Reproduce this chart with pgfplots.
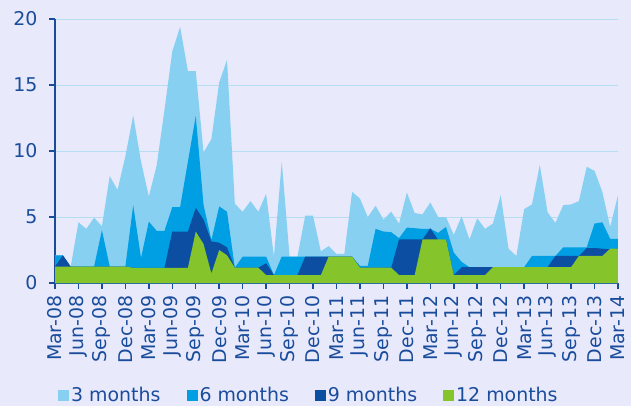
\documentclass[border=0pt]{standalone}
\usepackage{fontspec}
\setmainfont{DejaVu Sans}
\usepackage{pgfplots}
\usepackage{pgfplotstable}
\pgfplotsset{compat=1.18}
\definecolor{bg}{HTML}{E8E9FB}
\definecolor{cThree}{HTML}{88D0F2}
\definecolor{cSix}{HTML}{009EE2}
\definecolor{cNine}{HTML}{0B4EA2}
\definecolor{cTwelve}{HTML}{86C42C}
\definecolor{axc}{HTML}{1A4C9C}
\definecolor{gridc}{HTML}{B5DEF3}

% month index (0 = Mar-08), then the four maturities
\pgfplotstableread{
m  v3    v6    v9    v12
0  2.1   2.1   1.25  1.25
1  2.1   2.1   2.1   1.25
2  1.2   1.25  1.25  1.25
3  4.6   1.25  1.25  1.25
4  4.1   1.25  1.25  1.25
5  4.95  1.25  1.25  1.25
6  4.3   4.0   1.25  1.25
7  8.1   1.25  1.25  1.25
8  7.05  1.25  1.25  1.25
9  9.6   1.25  1.25  1.25
10 12.7  5.9   1.15  1.15
11 9.2   1.9   1.15  1.15
12 6.55  4.65  1.15  1.15
13 8.9   3.95  1.15  1.15
14 13.1  3.95  1.15  1.15
15 17.55 5.75  3.9   1.15
16 19.4  5.75  3.9   1.15
17 16.05 9.2   3.9   1.15
18 16.05 12.65 5.7   3.9
19 9.9   5.9   4.8   2.95
20 10.9  3.25  3.15  0.72
21 15.2  5.8   3.05  2.5
22 16.9  5.4   2.7   2.1
23 6.0   1.16  1.16  1.16
24 5.4   2.0   1.16  1.16
25 6.2   2.0   1.16  1.16
26 5.4   2.0   1.16  1.16
27 6.75  2.0   1.5   0.6
28 2.0   0.6   0.6   0.6
29 9.2   2.0   0.6   0.6
30 2.0   2.0   0.6   0.6
31 2.0   2.0   0.6   0.6
32 5.1   2.0   2.0   0.6
33 5.1   2.0   2.0   0.6
34 2.4   2.0   2.0   0.6
35 2.8   2.0   2.0   2.0
36 2.2   2.0   2.0   2.0
37 2.2   2.0   2.0   2.0
38 6.9   2.0   2.0   2.0
39 6.4   1.3   1.16  1.16
40 5.0   1.3   1.16  1.16
41 5.85  4.1   1.16  1.16
42 4.8   3.9   1.16  1.16
43 5.4   3.85  1.16  1.16
44 4.5   3.4   3.3   0.6
45 6.85  4.2   3.3   0.6
46 5.3   4.15  3.3   0.6
47 5.2   4.1   3.3   3.3
48 6.1   4.1   4.15  3.3
49 5.0   3.8   3.25  3.3
50 5.0   4.25  3.3   3.3
51 3.65  2.3   0.6   0.6
52 5.05  1.6   1.2   0.6
53 3.3   1.2   1.2   0.6
54 4.9   1.2   1.2   0.6
55 4.1   1.2   1.2   0.6
56 4.5   1.2   1.2   1.2
57 6.65  1.2   1.2   1.2
58 2.6   1.2   1.2   1.2
59 2.05  1.2   1.2   1.2
60 5.6   1.2   1.2   1.2
61 5.95  2.05  1.2   1.2
62 8.95  2.05  1.2   1.2
63 5.35  2.05  1.2   1.2
64 4.55  2.05  2.05  1.2
65 5.9   2.7   2.05  1.2
66 5.95  2.7   2.05  1.2
67 6.2   2.7   2.05  2.05
68 8.8   2.7   2.65  2.05
69 8.5   4.5   2.65  2.05
70 6.9   4.6   2.6   2.05
71 4.25  3.35  2.55  2.6
72 6.65  3.35  2.6   2.6
}\rates

\begin{document}
\begin{tikzpicture}
\fill[bg] (-55bp,-123bp) rectangle (576bp,283bp);
\useasboundingbox (-55bp,-123bp) rectangle (576bp,283bp);
\begin{axis}[
  at={(0,0)}, anchor=south west,
  scale only axis, width=563bp, height=264bp,
  xmin=0, xmax=72, ymin=0, ymax=20,
  axis x line=bottom, axis y line=left,
  axis line style={-, axc, line width=2bp},
  xtick={0,3,...,72}, ytick={0,5,...,20},
  xticklabels={Mar-08,Jun-08,Sep-08,Dec-08,Mar-09,Jun-09,Sep-09,Dec-09,
    Mar-10,Jun-10,Sep-10,Dec-10,Mar-11,Jun-11,Sep-11,Dec-11,
    Mar-12,Jun-12,Sep-12,Dec-12,Mar-13,Jun-13,Sep-13,Dec-13,Mar-14},
  tick align=outside, major tick length=6bp,
  tick style={axc, line width=1.5bp},
  ymajorgrids, grid style={gridc, line width=1bp},
  /pgf/number format/assume math mode=true,
  xticklabel shift=3bp,
  x tick label style={rotate=90, anchor=east, font=\fontsize{19}{19}\selectfont,
    text=axc},
  y tick label style={font=\fontsize{19}{19}\selectfont, text=axc, xshift=-8bp},
  legend columns=4,
  legend style={draw=none, fill=none, at={(axis description cs:0,-0.426)},
    anchor=west, font=\fontsize{19}{19}\selectfont, text=axc,
    /tikz/every even column/.append style={column sep=24bp}},
  legend image code/.code={\fill[#1] (0bp,-5.5bp) rectangle (11bp,5.5bp);},
]
\addplot[draw=none, fill=cThree] table[x=m, y=v3] {\rates} \closedcycle;
\addlegendentry{3 months}
\addplot[draw=none, fill=cSix] table[x=m, y=v6] {\rates} \closedcycle;
\addlegendentry{6 months}
\addplot[draw=none, fill=cNine] table[x=m, y=v9] {\rates} \closedcycle;
\addlegendentry{9 months}
\addplot[draw=none, fill=cTwelve] table[x=m, y=v12] {\rates} \closedcycle;
\addlegendentry{12 months}
\end{axis}
\end{tikzpicture}
\end{document}
